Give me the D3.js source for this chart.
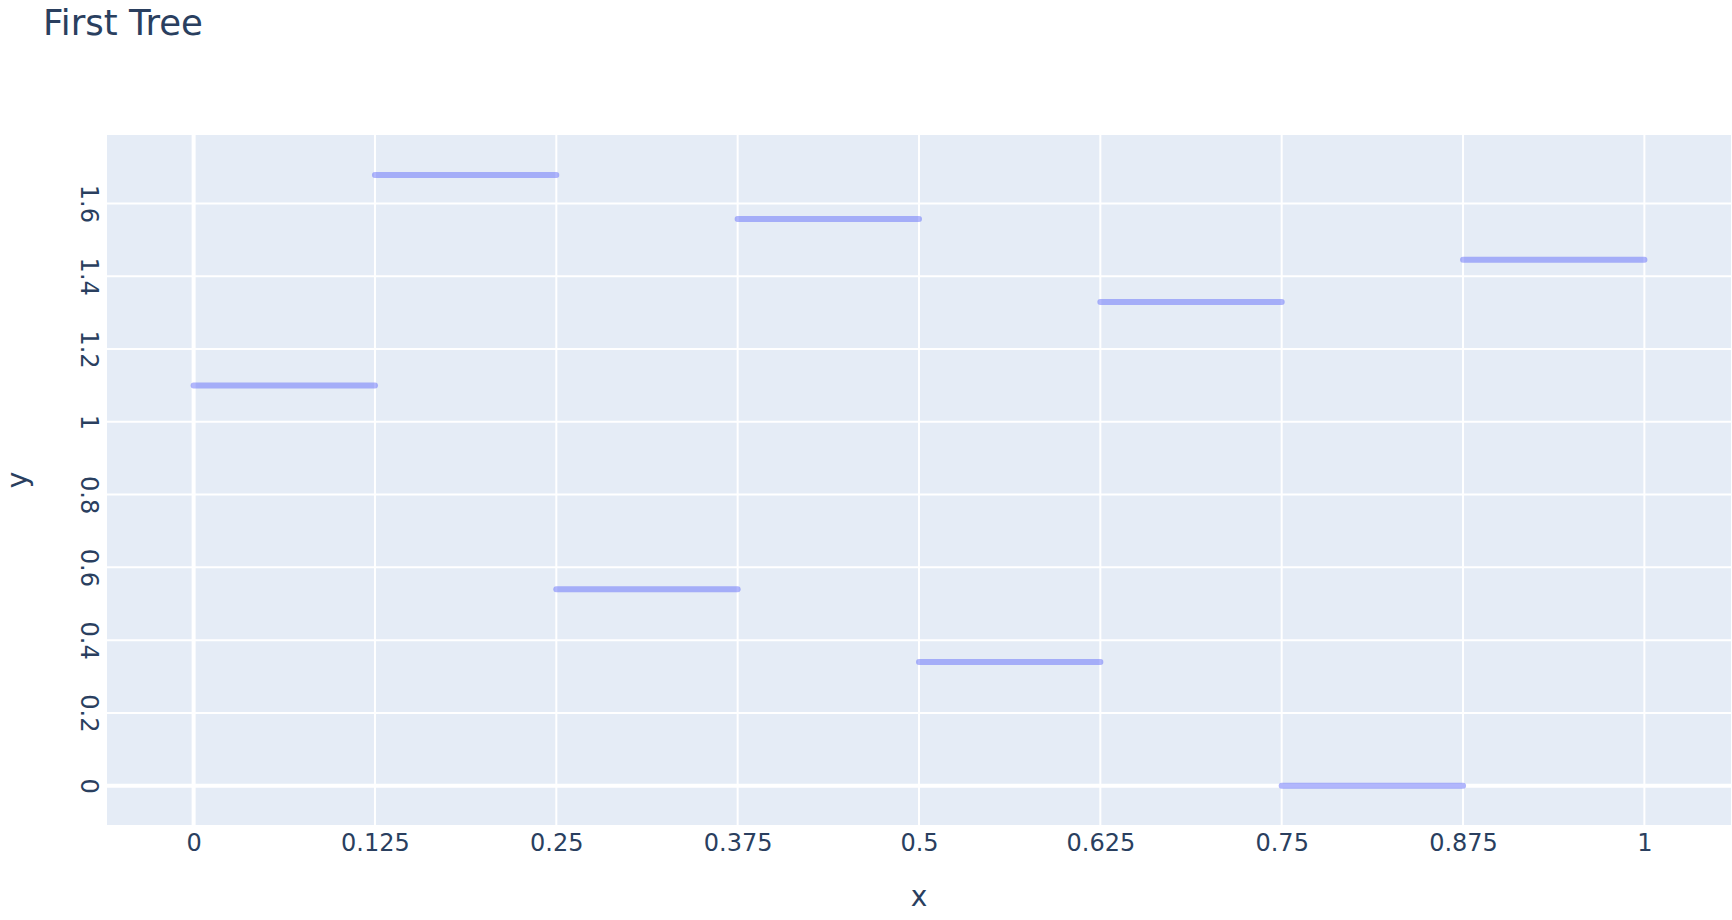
<!DOCTYPE html>
<html>
<head>
<meta charset="utf-8">
<script src="https://cdn.jsdelivr.net/npm/d3@7"></script>
<style>
  body { margin: 0; background: #fff; }
  text { font-family: "DejaVu Sans", Verdana, sans-serif; fill: #2a3f5f; }
</style>
</head>
<body>
<div class="chart"></div>
<script>
// split points of the tree and the value of each leaf
var splits = [0, 0.125, 0.25, 0.375, 0.5, 0.625, 0.75, 0.875, 1];
var leafValues = [1.100, 1.678, 0.540, 1.557, 0.340, 1.329, 0.0, 1.445];

var xTicks = [0, 0.125, 0.25, 0.375, 0.5, 0.625, 0.75, 0.875, 1];
var yTicks = [0, 0.2, 0.4, 0.6, 0.8, 1, 1.2, 1.4, 1.6];
var xRange = [-0.0597, 1.0597];
var yRange = [-0.108, 1.788];

var draw = function () {
  var width = 1732, height = 920;
  var margin = { left: 107, right: 1, top: 135, bottom: 95 };
  var plotW = width - margin.left - margin.right;
  var plotH = height - margin.top - margin.bottom;

  var svg = d3.select(".chart").append("svg")
    .attr("width", width)
    .attr("height", height);

  var x = d3.scaleLinear().domain(xRange).range([margin.left, margin.left + plotW]);
  var y = d3.scaleLinear().domain(yRange).range([margin.top + plotH, margin.top]);

  svg.append("rect")
    .attr("x", margin.left)
    .attr("y", margin.top)
    .attr("width", plotW)
    .attr("height", plotH)
    .attr("fill", "#e5ecf6");

  // grid lines, zero lines are wider
  var grid = svg.append("g");
  grid.selectAll(".vgrid").data(xTicks).enter().append("line")
    .attr("x1", function (d) { return x(d); })
    .attr("x2", function (d) { return x(d); })
    .attr("y1", margin.top)
    .attr("y2", margin.top + plotH)
    .attr("stroke", "#fff")
    .attr("stroke-width", function (d) { return d === 0 ? 4 : 2; });
  grid.selectAll(".hgrid").data(yTicks).enter().append("line")
    .attr("x1", margin.left)
    .attr("x2", margin.left + plotW)
    .attr("y1", function (d) { return y(d); })
    .attr("y2", function (d) { return y(d); })
    .attr("stroke", "#fff")
    .attr("stroke-width", function (d) { return d === 0 ? 4 : 2; });

  // one flat segment per leaf
  var segments = leafValues.map(function (v, i) {
    return { x0: splits[i], x1: splits[i + 1], value: v };
  });
  svg.append("g").selectAll("line").data(segments).enter().append("line")
    .attr("x1", function (d) { return x(d.x0); })
    .attr("x2", function (d) { return x(d.x1); })
    .attr("y1", function (d) { return y(d.value); })
    .attr("y2", function (d) { return y(d.value); })
    .attr("stroke", "#636efa")
    .attr("stroke-opacity", 0.5)
    .attr("stroke-width", 6)
    .attr("stroke-linecap", "round");

  // axes
  var xAxis = svg.append("g")
    .attr("transform", "translate(0," + (margin.top + plotH) + ")")
    .call(d3.axisBottom(x).tickValues(xTicks).tickFormat(d3.format("")).tickSize(0));
  xAxis.select(".domain").remove();
  xAxis.selectAll("text")
    .attr("y", 26)
    .attr("dy", 0)
    .attr("font-size", 24);

  var yAxis = svg.append("g")
    .attr("transform", "translate(" + margin.left + ",0)")
    .call(d3.axisLeft(y).tickValues(yTicks).tickFormat(d3.format("")).tickSize(0));
  yAxis.select(".domain").remove();
  yAxis.selectAll("text")
    .attr("x", 0)
    .attr("y", 0)
    .attr("dy", 0)
    .attr("text-anchor", "middle")
    .attr("transform", "translate(-26.5,0) rotate(90)")
    .attr("font-size", 24);
  svg.selectAll(".tick text").attr("fill", "#2a3f5f").attr("font-family", null);

  // titles
  svg.append("text")
    .attr("x", 43)
    .attr("y", 35)
    .attr("font-size", 35.5)
    .text("First Tree");

  svg.append("text")
    .attr("x", margin.left + plotW / 2)
    .attr("y", 906)
    .attr("text-anchor", "middle")
    .attr("font-size", 28)
    .text("x");

  svg.append("text")
    .attr("transform", "translate(27," + (margin.top + plotH / 2) + ") rotate(-90)")
    .attr("text-anchor", "middle")
    .attr("font-size", 28)
    .text("y");
};

draw();
</script>
</body>
</html>
